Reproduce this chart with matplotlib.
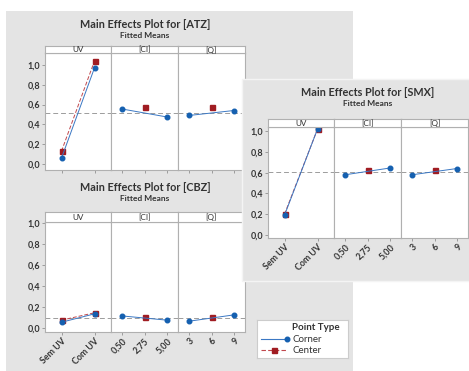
import matplotlib.pyplot as plt
from matplotlib.patches import Rectangle
from matplotlib.lines import Line2D

plt.rcParams['font.family'] = ['Lato', 'DejaVu Sans']

# ---------------------------------------------------------------
# data (fitted means)
# ---------------------------------------------------------------
uv_levels = ["Sem UV", "Com UV"]
ci_levels = ["0,50", "2,75", "5,00"]
q_levels = ["3", "6", "9"]
facet_names = ["UV", "[CI]", "[Q]"]

y_ticks = [0.0, 0.2, 0.4, 0.6, 0.8, 1.0]
y_labels = ["0,0", "0,2", "0,4", "0,6", "0,8", "1,0"]

atz_uv_corner = [0.06, 0.97]
atz_uv_center = [0.13, 1.04]
atz_ci_corner = [0.555, 0.475]
atz_ci_center = 0.58
atz_q_corner = [0.49, 0.54]
atz_q_center = 0.58
atz_mean = 0.515

cbz_uv_corner = [0.055, 0.135]
cbz_uv_center = [0.075, 0.145]
cbz_ci_corner = [0.115, 0.075]
cbz_ci_center = 0.105
cbz_q_corner = [0.065, 0.125]
cbz_q_center = 0.105
cbz_mean = 0.095

smx_uv_corner = [0.19, 1.02]
smx_uv_center = [0.20, 1.02]
smx_ci_corner = [0.58, 0.645]
smx_ci_center = 0.625
smx_q_corner = [0.58, 0.64]
smx_q_center = 0.625
smx_mean = 0.61

# ---------------------------------------------------------------
# styling
# ---------------------------------------------------------------
W, H = 469, 371
GRAY = '#e4e4e4'
TXT = '#333333'
BLUE = '#1560b0'
RED = '#a01c22'
SPINE = '#b0b0b0'

fig = plt.figure(figsize=(W / 100, H / 100), dpi=100)
fig.patch.set_facecolor('white')


def frac(x0, y0, x1, y1):
    # pixel box (top-left origin) -> figure fraction rect
    return [x0 / W, 1 - y1 / H, (x1 - x0) / W, (y1 - y0) / H]


def gray_box(x0, y0, x1, y1, z, edge='none'):
    r = Rectangle((x0 / W, 1 - y1 / H), (x1 - x0) / W, (y1 - y0) / H,
                  transform=fig.transFigure, facecolor=GRAY,
                  edgecolor=edge, lw=1.0, zorder=z)
    fig.add_artist(r)


def panel(tag, xs, strip_top, plot_top, plot_bot, ylim, series, mean,
          title_y, xlabels, z):
    uv_c, uv_m, ci_c, ci_m, q_c, q_m = series
    facets = [
        (uv_levels, [0, 1], uv_c, [0, 1], uv_m),
        (ci_levels, [0, 2], ci_c, [1], [ci_m]),
        (q_levels, [0, 2], q_c, [1], [q_m]),
    ]
    for i, (levels, cx, cy, mx, my) in enumerate(facets):
        ax = fig.add_axes(frac(xs[i], plot_top, xs[i + 1], plot_bot), zorder=z)
        ax.set_facecolor('white')
        n = len(levels)
        ax.set_xlim(-0.5, n - 0.5)
        ax.set_ylim(*ylim)
        ax.axhline(mean, color='#9c9c9c', lw=0.7, ls=(0, (5, 3)), zorder=1)
        if len(mx) > 1:
            ax.plot(mx, my, color='#c0474c', lw=0.7, ls=(0, (4, 2)), zorder=2)
        ax.plot(mx, my, ls='none', marker='s', ms=3.6, color=RED, zorder=3)
        ax.plot(cx, cy, color='#3b78c4', lw=0.7, zorder=4)
        ax.plot(cx, cy, ls='none', marker='o', ms=3.3, color=BLUE, zorder=5)
        for s in ax.spines.values():
            s.set_color(SPINE)
            s.set_linewidth(0.8)
        ax.set_xticks(range(n))
        if xlabels:
            ax.set_xticklabels(levels, rotation=45, ha='right',
                               rotation_mode='anchor', fontsize=6.4,
                               fontweight='bold', color=TXT)
        else:
            ax.set_xticklabels([])
        ax.set_yticks(y_ticks)
        if i == 0:
            ax.set_yticklabels(y_labels, fontsize=6.4, fontweight='bold', color=TXT)
        else:
            ax.tick_params(axis='y', left=False, labelleft=False)
        ax.tick_params(length=2, width=0.6, color='#909090', pad=1.5)

        sax = fig.add_axes(frac(xs[i], strip_top, xs[i + 1], plot_top), zorder=z)
        sax.set_facecolor('white')
        sax.set_xticks([])
        sax.set_yticks([])
        for s in sax.spines.values():
            s.set_color(SPINE)
            s.set_linewidth(0.8)
        sax.text(0.5, 0.45, facet_names[i], transform=sax.transAxes,
                 ha='center', va='center', fontsize=5.9, color=TXT)

    cx_title = (xs[0] + xs[3]) / 2
    fig.text(cx_title / W, 1 - title_y / H, f"Main Effects Plot for [{tag}]",
             ha='center', va='center', fontsize=7.8, fontweight='bold',
             color=TXT, zorder=z)
    fig.text(cx_title / W, 1 - (title_y + 10.5) / H, "Fitted Means",
             ha='center', va='center', fontsize=6.0, fontweight='bold',
             color=TXT, zorder=z)


# left column background (ATZ + CBZ)
gray_box(6, 11, 353, 371, 0.5)

panel("ATZ", [45, 111, 178, 245], 46, 53, 170, (-0.06, 1.12),
      (atz_uv_corner, atz_uv_center, atz_ci_corner, atz_ci_center,
       atz_q_corner, atz_q_center), atz_mean, 25, False, 1)

panel("CBZ", [45, 111, 178, 245], 212, 222, 332, (-0.038, 1.01),
      (cbz_uv_corner, cbz_uv_center, cbz_ci_corner, cbz_ci_center,
       cbz_q_corner, cbz_q_center), cbz_mean, 188, True, 1)

# SMX panel pasted on top
gray_box(242, 79, 470, 281, 2, edge='#f4f4f4')

panel("SMX", [268, 334, 401, 468], 119, 127, 238, (-0.029, 1.04),
      (smx_uv_corner, smx_uv_center, smx_ci_corner, smx_ci_center,
       smx_q_corner, smx_q_center), smx_mean, 93, True, 3)

# legend box
lax = fig.add_axes(frac(257, 320, 348, 358), zorder=3)
lax.set_facecolor('white')
lax.set_xticks([])
lax.set_yticks([])
for s in lax.spines.values():
    s.set_color('#cccccc')
    s.set_linewidth(0.8)
lax.set_xlim(0, 1)
lax.set_ylim(0, 1)
lax.text(0.385, 0.80, "Point Type", fontsize=7.0, fontweight='bold',
         color=TXT, va='center', ha='left')
lax.text(0.385, 0.50, "Corner", fontsize=7.0, color=TXT, va='center', ha='left')
lax.text(0.385, 0.21, "Center", fontsize=7.0, color=TXT, va='center', ha='left')
lax.add_line(Line2D([0.04, 0.33], [0.50, 0.50], color='#3b78c4', lw=0.8,
                    marker='o', ms=3.3, mfc=BLUE, mec=BLUE, markevery=[1],
                    transform=lax.transAxes))
lax.add_line(Line2D([0.04, 0.185, 0.33], [0.21, 0.21, 0.21], color='#c0474c', lw=0.8,
                    ls=(0, (4, 2)), marker='s', ms=3.6, mfc=RED, mec=RED,
                    markevery=[1], transform=lax.transAxes))

fig.savefig("out.png", dpi=100)
